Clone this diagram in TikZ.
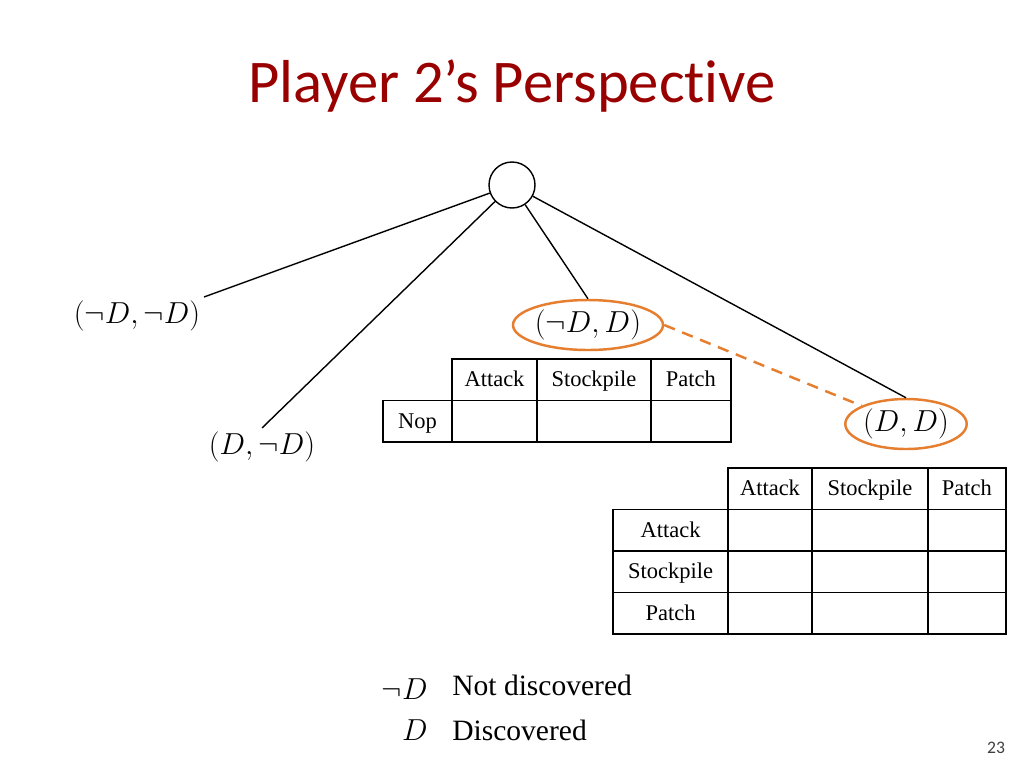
\documentclass[tikz,border=0pt]{standalone}
\usepackage{fontspec}
\usepackage{xcolor}
\usepackage{tikz}
\usetikzlibrary{shapes.geometric, positioning}
\newfontfamily\slidefont[Ligatures=NoCommon]{Carlito}
\newfontfamily\cellfont{Liberation Serif}
\definecolor{SlideRed}{RGB}{153, 0, 0}
\definecolor{SlideOrange}{RGB}{230, 126, 48}

\tikzset{
  cell/.style={draw, line width=0.8pt, inner sep=0pt, outer sep=0pt,
               minimum height=0.83cm, text height=2ex, text depth=0.2ex,
               font=\cellfont\fontsize{12.8}{14}\selectfont},
  branch/.style={line width=0.8pt},
  outcome/.style={inner sep=2pt, font=\fontsize{16}{18}\selectfont},
  infoset/.style={ellipse, draw=SlideOrange, line width=1.4pt, minimum width=2.42cm,
                  minimum height=1cm, inner sep=0pt, font=\fontsize{16}{18}\selectfont},
  legend/.style={inner sep=0pt, font=\fontsize{16}{18}\selectfont},
  legendtext/.style={inner sep=0pt, font=\cellfont\fontsize{16.8}{18}\selectfont}
}

\begin{document}
\begin{tikzpicture}[x=0.02cm, y=-0.02cm]
    \fill[white] (0,0) rectangle (1024,768);
    \useasboundingbox (0,0) rectangle (1024,768);

    \node[anchor=base west, inner sep=0pt, text=SlideRed,
          font=\slidefont\fontsize{34.5}{40}\selectfont] (title) at (248,102) {Player 2’s Perspective};

    % game tree
    \node[circle, draw, line width=0.8pt, minimum size=0.92cm, inner sep=0pt] (root) at (512,185) {};
    \node[outcome] (nn) at (137,316) {$(\neg D, \neg D)$};
    \node[outcome] (dn) at (262,447) {$(D, \neg D)$};
    \node[infoset] (nd) at (588,325) {$(\neg D, D)$};
    \node[infoset] (dd) at (906,424) {$(D, D)$};

    \draw[branch] (root) -- (nn.north east);
    \draw[branch] (root) -- (dn.north);
    \draw[branch] (root) -- (nd.north);
    \draw[branch] (root) -- (dd.north);
    \draw[SlideOrange, line width=1.4pt, dash pattern=on 6.5pt off 4.5pt] (nd.east) -- (dd);

    % payoff table under (not D, D)
    \node[cell, minimum width=1.70cm, anchor=north west] (ta1) at (452,359) {Attack};
    \node[cell, minimum width=2.28cm, right=0pt of ta1] (ta2) {Stockpile};
    \node[cell, minimum width=1.60cm, right=0pt of ta2] (ta3) {Patch};
    \node[cell, minimum width=1.70cm, below=0pt of ta1] (tb1) {};
    \node[cell, minimum width=2.28cm, below=0pt of ta2] (tb2) {};
    \node[cell, minimum width=1.60cm, below=0pt of ta3] (tb3) {};
    \node[cell, minimum width=1.38cm, left=0pt of tb1] (tb0) {Nop};

    % payoff table under (D, D)
    \node[cell, minimum width=1.68cm, anchor=north west] (ua1) at (728,468) {Attack};
    \node[cell, minimum width=2.32cm, right=0pt of ua1] (ua2) {Stockpile};
    \node[cell, minimum width=1.56cm, right=0pt of ua2] (ua3) {Patch};
    \node[cell, minimum width=1.68cm, below=0pt of ua1] (ub1) {};
    \node[cell, minimum width=2.32cm, below=0pt of ua2] (ub2) {};
    \node[cell, minimum width=1.56cm, below=0pt of ua3] (ub3) {};
    \node[cell, minimum width=2.30cm, left=0pt of ub1] (ub0) {Attack};
    \node[cell, minimum width=1.68cm, below=0pt of ub1] (uc1) {};
    \node[cell, minimum width=2.32cm, below=0pt of ub2] (uc2) {};
    \node[cell, minimum width=1.56cm, below=0pt of ub3] (uc3) {};
    \node[cell, minimum width=2.30cm, left=0pt of uc1] (uc0) {Stockpile};
    \node[cell, minimum width=1.68cm, below=0pt of uc1] (ud1) {};
    \node[cell, minimum width=2.32cm, below=0pt of uc2] (ud2) {};
    \node[cell, minimum width=1.56cm, below=0pt of uc3] (ud3) {};
    \node[cell, minimum width=2.30cm, left=0pt of ud1] (ud0) {Patch};

    % legend
    \node[legend, anchor=base east] (knot) at (428,699) {$\neg D$};
    \node[legendtext, right=0.48cm of knot.base east, anchor=base west, yshift=2pt] (lnot) {Not discovered};
    \node[legend, anchor=base east] (kyes) at (428,740) {$D$};
    \node[legendtext, right=0.48cm of kyes.base east, anchor=base west] (lyes) {Discovered};

    \node[text=black!75, font=\slidefont\fontsize{10}{12}\selectfont] (page) at (996,748) {23};
  \end{tikzpicture}
\end{document}
